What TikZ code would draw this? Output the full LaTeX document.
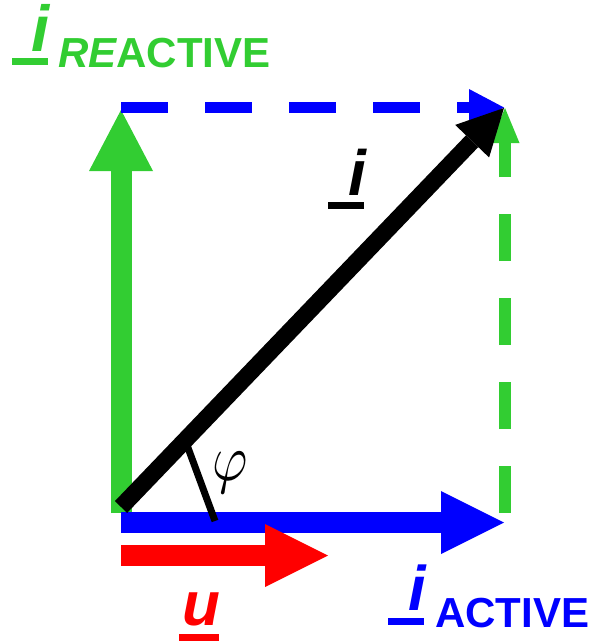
\documentclass[tikz,border=0pt]{standalone}
\usepackage[no-math]{fontspec}
\setmainfont{Liberation Sans}
\usetikzlibrary{arrows.meta}
\definecolor{vgreen}{RGB}{50,205,50}
\definecolor{vblue}{RGB}{0,0,255}
\definecolor{vred}{RGB}{255,0,0}
\tikzset{
  vecline/.style={line width=21pt},
  dashvec/.style={line width=11.5pt, dash pattern=on 47pt off 37pt},
  lbl/.style={inner sep=0pt, anchor=base, font=\fontsize{#1}{#1}\selectfont\bfseries},
}
\begin{document}
\begin{tikzpicture}[x=1pt,y=-1pt]
\useasboundingbox (0,0) rectangle (593,642);
% coordinates
\coordinate (gO) at (121,513);
\coordinate (gT) at (121,110);
\coordinate (bO) at (121,522.5);
\coordinate (bT) at (504,522.5);
\coordinate (rO) at (121,555.5);
\coordinate (rT) at (328,555.5);
\coordinate (tdO) at (121,107.5);
\coordinate (tdT) at (504,107.5);
\coordinate (rdO) at (505,513);
\coordinate (rdT) at (505,108);
\coordinate (kO) at (121,507);
\coordinate (kT) at (504,108);
\coordinate (phiA) at (185.5,441);
\coordinate (phiB) at (215,521);
% green solid reactive
\draw[vecline, vgreen, -{Triangle[length=61pt,width=64pt,line width=0pt]}] (gO) -- (gT);
% green dashed right
\draw[dashvec, line width=12pt, vgreen, -{Triangle[length=35pt,width=29pt,line width=0pt]}] (rdO) -- (rdT);
% blue dashed top
\draw[dashvec, vblue, -{Triangle[length=35pt,width=37pt,line width=0pt]}] (tdO) -- (tdT);
% blue solid active
\draw[vecline, vblue, -{Triangle[length=63pt,width=63pt,line width=0pt]}] (bO) -- (bT);
% red u
\draw[vecline, vred, -{Triangle[length=63pt,width=63pt,line width=0pt]}] (rO) -- (rT);
% black i
\draw[line width=17pt, black, -{Triangle[length=46pt,width=47pt,line width=0pt]}] (kO) -- (kT);
% phi tick
\draw[line width=7pt, black] (phiA) -- (phiB);
\node[inner sep=0pt, xscale=5.4, yscale=6.6] (phi) at (230,473) {$\varphi$};
% labels
\node[lbl=65, vgreen] (gi) at (41,52) {\itshape i};
\fill[vgreen] (12,58) rectangle (48,65);
\node[lbl=42, vgreen, anchor=base west] (gtxt) at (58,67) {\itshape RE\upshape ACTIVE};
\node[lbl=63, vblue] (bi) at (417.5,610) {\itshape i};
\fill[vblue] (388,618) rectangle (424,624.5);
\node[lbl=42, vblue, anchor=base west] (btxt) at (435,627) {ACTIVE};
\node[lbl=62, vred] (ru) at (201,625) {\itshape u};
\fill[vred] (179,634) rectangle (219,641);
\node[lbl=64, black] (ki) at (357.5,195) {\itshape i};
\fill[black] (328,202) rectangle (364,209);
\end{tikzpicture}
\end{document}
